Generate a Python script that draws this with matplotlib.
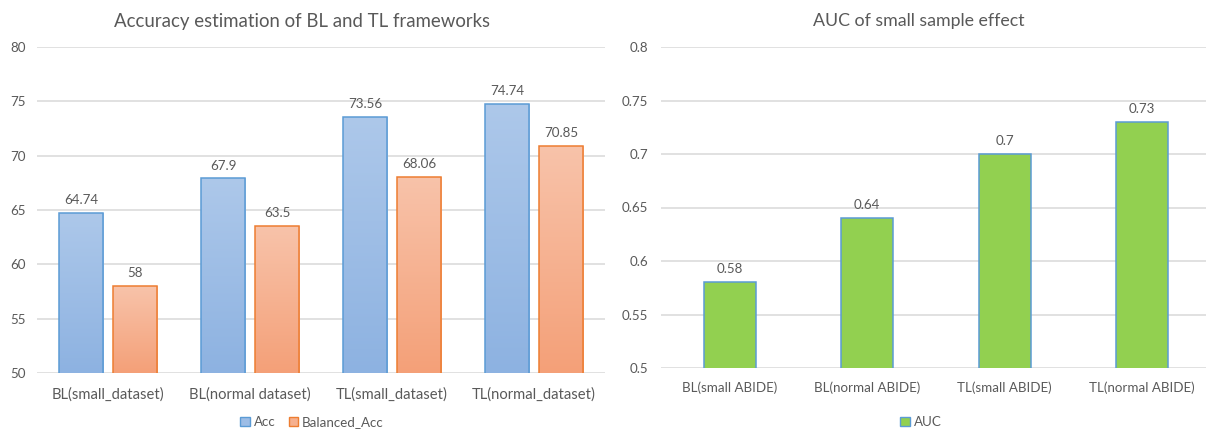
import numpy as np
import matplotlib
matplotlib.use("Agg")
import matplotlib.pyplot as plt
from matplotlib.colors import LinearSegmentedColormap
from matplotlib.patches import Patch

# ---- data ----
acc_categories = ["BL(small_dataset)", "BL(normal dataset)", "TL(small_dataset)", "TL(normal_dataset)"]
acc_values = [64.74, 67.9, 73.56, 74.74]
balanced_acc_values = [58, 63.5, 68.06, 70.85]
acc_yticks = [50, 55, 60, 65, 70, 75, 80]

auc_categories = ["BL(small ABIDE)", "BL(normal ABIDE)", "TL(small ABIDE)", "TL(normal ABIDE)"]
auc_values = [0.58, 0.64, 0.7, 0.73]
auc_yticks = [0.5, 0.55, 0.6, 0.65, 0.7, 0.75, 0.8]
auc_ticklabels = ["0.5", "0.55", "0.6", "0.65", "0.7", "0.75", "0.8"]

# ---- style ----
FONT = ["Lato", "DejaVu Sans"]
TEXT = "#595959"
GRID = "#d9d9d9"
FS = 9.6
plt.rcParams["font.family"] = FONT

W, H = 1206, 429
fig = plt.figure(figsize=(W / 100, H / 100), dpi=100)
fig.patch.set_facecolor("white")


def px_axes(x0, y0, x1, y1):
    return fig.add_axes([x0 / W, 1 - y1 / H, (x1 - x0) / W, (y1 - y0) / H])


def style_axes(ax, yticks, yticklabels=None, ypad=8, xsize=FS):
    for s in ax.spines.values():
        s.set_visible(False)
    ax.set_yticks(yticks)
    if yticklabels is not None:
        ax.set_yticklabels(yticklabels)
    ax.yaxis.grid(True, color=GRID, linewidth=1.1)
    ax.set_axisbelow(True)
    ax.tick_params(axis="both", length=0, colors=TEXT, labelsize=FS)
    ax.tick_params(axis="y", pad=ypad)
    ax.tick_params(axis="x", pad=10, labelsize=xsize)


def gradient_bars(ax, bars, top_color, bottom_color):
    # vertical colour gradient inside each bar, limited to the visible y-range
    cmap = LinearSegmentedColormap.from_list("g", [bottom_color, top_color])
    grad = np.linspace(0, 1, 256).reshape(-1, 1)
    ymin = ax.get_ylim()[0]
    for b in bars:
        x0 = b.get_x()
        w = b.get_width()
        y0 = max(b.get_y(), ymin)
        y1 = b.get_y() + b.get_height()
        im = ax.imshow(grad, cmap=cmap, aspect="auto", origin="lower",
                       extent=(x0, x0 + w, y0, y1), zorder=2,
                       interpolation="bicubic")
        im.set_clip_path(b)


# ---- left: accuracy ----
ax1 = px_axes(37, 47, 605, 373)
x = np.arange(len(acc_categories))
bw, off = 0.31, 0.19
ax1.set_xlim(-0.5, len(acc_categories) - 0.5)
ax1.set_ylim(50, 80)
b_acc = ax1.bar(x - off, acc_values, bw, facecolor="none",
                edgecolor="#5b9bd5", linewidth=1.1, zorder=3)
b_bal = ax1.bar(x + off, balanced_acc_values, bw, facecolor="none",
                edgecolor="#ed7d31", linewidth=1.1, zorder=3)
ax1.set_xlim(-0.5, len(acc_categories) - 0.5)
ax1.set_ylim(50, 80)
gradient_bars(ax1, b_acc, "#adc8ea", "#8db2e1")
gradient_bars(ax1, b_bal, "#f8c3aa", "#f4a078")
ax1.set_xlim(-0.5, len(acc_categories) - 0.5)
ax1.set_ylim(50, 80)
style_axes(ax1, acc_yticks, ypad=8, xsize=10.6)
ax1.set_xticks(x)
ax1.set_xticklabels(acc_categories)
for xi, v in zip(x - off, acc_values):
    ax1.annotate(f"{v:g}", (xi, v), xytext=(0, 5), textcoords="offset points",
                 ha="center", va="bottom", color=TEXT, fontsize=FS)
for xi, v in zip(x + off, balanced_acc_values):
    ax1.annotate(f"{v:g}", (xi, v), xytext=(0, 5), textcoords="offset points",
                 ha="center", va="bottom", color=TEXT, fontsize=FS)
fig.text(302 / W, 1 - 21 / H, "Accuracy estimation of BL and TL frameworks",
         ha="center", va="center", color=TEXT, fontsize=13.4)
fig.legend(handles=[Patch(facecolor="#9dbde6", edgecolor="#5b9bd5", label="Acc"),
                    Patch(facecolor="#f6b08f", edgecolor="#ed7d31", label="Balanced_Acc")],
           loc="center", bbox_to_anchor=(312 / W, 1 - 422 / H), ncol=2, frameon=False,
           handlelength=0.7, handleheight=0.7, handletextpad=0.3, columnspacing=1.0,
           fontsize=FS, labelcolor=TEXT)

# ---- right: AUC ----
ax2 = px_axes(661, 47, 1211, 368)
x2 = np.arange(len(auc_categories))
ax2.bar(x2, auc_values, 0.38, facecolor="#92d050", edgecolor="#5b9bd5",
        linewidth=1.1, zorder=3)
ax2.set_xlim(-0.5, len(auc_categories) - 0.5)
ax2.set_ylim(0.5, 0.8)
style_axes(ax2, auc_yticks, auc_ticklabels, ypad=9, xsize=9.6)
ax2.set_xticks(x2)
ax2.set_xticklabels(auc_categories)
for xi, v in zip(x2, auc_values):
    ax2.annotate(f"{v:g}", (xi, v), xytext=(0, 5), textcoords="offset points",
                 ha="center", va="bottom", color=TEXT, fontsize=FS)
fig.text(919 / W, 1 - 21 / H, "AUC of small sample effect",
         ha="center", va="center", color=TEXT, fontsize=12.8)
fig.legend(handles=[Patch(facecolor="#92d050", edgecolor="#5b9bd5", label="AUC")],
           loc="center", bbox_to_anchor=(921 / W, 1 - 422 / H), frameon=False,
           handlelength=0.7, handleheight=0.7, handletextpad=0.3,
           fontsize=FS, labelcolor=TEXT)

fig.savefig("out.png", dpi=100, facecolor="white")
